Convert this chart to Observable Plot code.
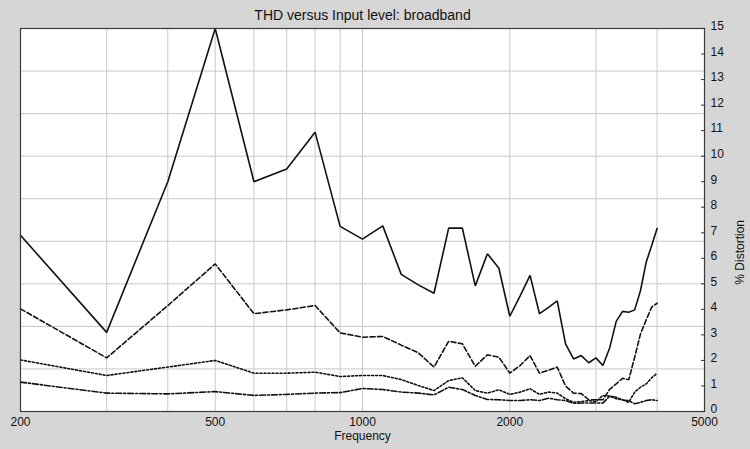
<!DOCTYPE html>
<html>
<head>
<meta charset="utf-8">
<script src="https://cdn.jsdelivr.net/npm/d3@7"></script>
<script src="https://cdn.jsdelivr.net/npm/@observablehq/plot@0.6"></script>
<style>
  html, body { margin: 0; padding: 0; background: #d6d6d6; }
  #chart { width: 750px; height: 449px; }
</style>
</head>
<body>
<div id="chart"></div>
<script>
const titleText = "THD versus Input level: broadband";
const xLabel = "Frequency";
const yLabel = "% Distortion";

const freqs = [200, 300, 400, 500, 600, 700, 800, 900, 1000, 1100, 1200, 1300, 1400, 1500, 1600, 1700, 1800, 1900, 2000, 2100, 2200, 2300, 2400, 2500, 2600, 2700, 2800, 2900, 3000, 3100, 3200, 3300, 3400, 3500, 3600, 3700, 3800, 3900, 4000];

const solid = [6.9, 3.1, 9.0, 15.0, 9.0, 9.5, 10.94, 7.25, 6.75, 7.27, 5.37, 4.96, 4.63, 7.18, 7.18, 4.92, 6.18, 5.61, 3.73, 4.53, 5.33, 3.83, 4.08, 4.33, 2.65, 2.06, 2.19, 1.91, 2.10, 1.80, 2.49, 3.53, 3.92, 3.89, 3.98, 4.74, 5.85, 6.5, 7.17];

const dashed = [4.02, 2.10, 4.15, 5.78, 3.83, 3.98, 4.15, 3.08, 2.91, 2.94, 2.6, 2.3, 1.74, 2.75, 2.65, 1.77, 2.22, 2.13, 1.50, 1.80, 2.19, 1.50, 1.62, 1.74, 1.0, 0.72, 0.70, 0.46, 0.46, 0.46, 0.87, 1.08, 1.30, 1.24, 2.13, 3.04, 3.59, 4.09, 4.24];

const dotted = [2.02, 1.41, 1.74, 2.0, 1.50, 1.50, 1.54, 1.37, 1.41, 1.41, 1.25, 1.02, 0.82, 1.21, 1.32, 0.82, 0.72, 0.85, 0.67, 0.76, 0.89, 0.67, 0.76, 0.72, 0.50, 0.36, 0.39, 0.43, 0.39, 0.63, 0.6, 0.5, 0.46, 0.36, 0.76, 0.95, 1.08, 1.32, 1.50];

const dashDot = [1.15, 0.72, 0.69, 0.78, 0.63, 0.67, 0.72, 0.74, 0.90, 0.86, 0.76, 0.72, 0.65, 0.95, 0.86, 0.63, 0.47, 0.46, 0.43, 0.43, 0.46, 0.43, 0.52, 0.46, 0.43, 0.32, 0.33, 0.33, 0.33, 0.33, 0.60, 0.56, 0.45, 0.43, 0.30, 0.36, 0.43, 0.46, 0.43];

const xTicks = [200, 500, 1000, 2000, 5000];
const yTicks = [0, 1, 2, 3, 4, 5, 6, 7, 8, 9, 10, 11, 12, 13, 14, 15];
const xGrid = [300, 400, 500, 600, 700, 800, 900, 1000, 2000, 3000, 4000];
const yGrid = [1.667, 3.333, 5, 6.667, 8.333, 10, 11.667, 13.333];

const series = [
  {values: solid, dash: null},
  {values: dashed, dash: "5,2.5"},
  {values: dotted, dash: "2,2"},
  {values: dashDot, dash: "6,2,2,2"}
];

const lineMarks = series.map(s => Plot.line(
  freqs.map((f, i) => ({f, v: s.values[i]})),
  {x: "f", y: "v", stroke: "#111", strokeWidth: 1.6, strokeDasharray: s.dash, strokeLinejoin: "miter"}
));

const chart = Plot.plot({
  width: 750,
  height: 449,
  marginLeft: 20,
  marginRight: 46,
  marginTop: 28,
  marginBottom: 38,
  style: {background: "#d6d6d6", fontFamily: "'Liberation Sans', Arial, sans-serif", fontSize: "12px", color: "#111"},
  x: {type: "log", domain: [200, 5000]},
  y: {domain: [0, 15]},
  marks: [
    Plot.frame({fill: "white", stroke: null}),
    Plot.ruleX(xGrid, {stroke: "#c8c8c8", strokeWidth: 1}),
    Plot.ruleY(yGrid, {stroke: "#c8c8c8", strokeWidth: 1}),
    ...lineMarks,
    Plot.frame({stroke: "#3a3a3a", strokeWidth: 1.2}),
    Plot.axisX({ticks: xTicks, tickFormat: d => String(d), tickSize: 0, tickPadding: 6, label: null, fontSize: 12}),
    Plot.axisY({anchor: "right", ticks: yTicks, tickSize: -4, tickFormat: () => "", label: null, stroke: "#333"}),
    Plot.axisY({anchor: "right", ticks: yTicks, tickSize: 0, tickPadding: 6, label: null, fontSize: 12, dy: -2}),
    Plot.text([titleText], {frameAnchor: "top", dy: -18, fontSize: 14}),
    Plot.text([xLabel], {frameAnchor: "bottom", dy: 28, fontSize: 12}),
    Plot.text([yLabel], {frameAnchor: "right", dx: 36, rotate: -90, fontSize: 12})
  ]
});

document.getElementById("chart").appendChild(chart);
</script>
</body>
</html>
